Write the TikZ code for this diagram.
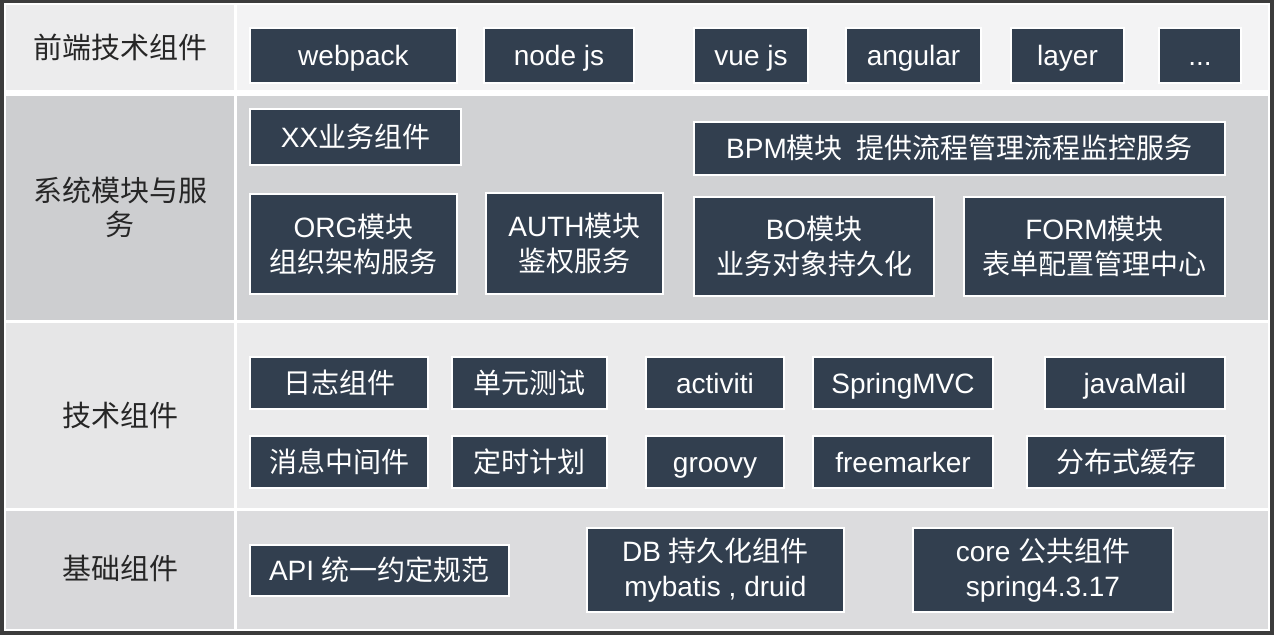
\documentclass[tikz,border=0pt]{standalone}
\usepackage{fontspec}
\setmainfont{Liberation Sans}
\newfontfamily\cjk{Noto Sans CJK SC}
\newcommand\zh[1]{{\cjk #1}}
\definecolor{frame}{HTML}{3C3C3C}
\definecolor{boxfill}{HTML}{323F4F}
\definecolor{rowa}{HTML}{F3F3F4}
\definecolor{rowb}{HTML}{D1D2D4}
\definecolor{rowc}{HTML}{EBEBEC}
\definecolor{rowd}{HTML}{DCDCDE}
\begin{document}
\begin{tikzpicture}[x=1pt, y=-1pt,
          lbl/.style={text=black!85, align=center, inner sep=0pt, font=\fontsize{29}{34}\selectfont\cjk},
          comp/.style={draw=white, line width=2pt, fill=boxfill, text=white, align=center, inner sep=0pt,
                       font=\fontsize{28}{35}\selectfont},
          one/.style={comp, text height=26pt, text depth=6pt},
          row1/.style={one, minimum height=55},
          row3/.style={one, minimum height=52}]
          % ramme og baggrund for tabellen
          \useasboundingbox (0,0) rectangle (1274,635);
          \fill[frame] (0,0) rectangle (1274,635);
          \fill[white] (4,3) rectangle (1270,631);
          % celler: venstre kolonne er lidt moerkere
          \fill[rowa!97!black] (6,5) rectangle (234,90);
          \fill[rowa] (237,5) rectangle (1268,90);
          \fill[rowb!98!black] (6,96) rectangle (234,320);
          \fill[rowb] (237,96) rectangle (1268,320);
          \fill[rowc!98!black] (6,323) rectangle (234,508);
          \fill[rowc] (237,323) rectangle (1268,508);
          \fill[rowd!98!black] (6,511) rectangle (234,629);
          \fill[rowd] (237,511) rectangle (1268,629);
          % raekkernes navne
          \node[lbl] (front) at (120,47) {前端技术组件};
          \node[lbl] (sys) at (120,207) {系统模块与服\\务};
          \node[lbl] (tech) at (120,415) {技术组件};
          \node[lbl] (base) at (120,568) {基础组件};
          % front-end
          \node[row1, minimum width=207] (webpack) at (353.5,55.5) {webpack};
          \node[row1, minimum width=150] (nodejs) at (559,55.5) {node js};
          \node[row1, minimum width=114] (vuejs) at (751,55.5) {vue js};
          \node[row1, minimum width=135] (angular) at (913.5,55.5) {angular};
          \node[row1, minimum width=113] (layer) at (1067.5,55.5) {layer};
          \node[row1, minimum width=82] (more) at (1200,55.5) {...};
          % moduler og services
          \node[one, minimum width=211, minimum height=56] (xx) at (355.5,137) {XX\zh{业务组件}};
          \node[one, minimum width=531, minimum height=53] (bpm) at (959.5,148.5) {BPM\zh{模块}\hspace{0.5em}\zh{提供流程管理流程监控服务}};
          \node[comp, minimum width=207, minimum height=100] (org) at (353.5,244) {ORG\zh{模块}\\\zh{组织架构服务}};
          \node[comp, minimum width=177, minimum height=101] (auth) at (574.5,243.5) {AUTH\zh{模块}\\\zh{鉴权服务}};
          \node[comp, minimum width=240, minimum height=99] (bo) at (814,246.5) {BO\zh{模块}\\\zh{业务对象持久化}};
          \node[comp, minimum width=261, minimum height=99] (form) at (1094.5,246.5) {FORM\zh{模块}\\\zh{表单配置管理中心}};
          % tekniske komponenter
          \node[row3, minimum width=178] (log) at (339,383) {\zh{日志组件}};
          \node[row3, minimum width=155] (unittest) at (529.5,383) {\zh{单元测试}};
          \node[row3, minimum width=138] (activiti) at (715,383) {activiti};
          \node[row3, minimum width=180] (mvc) at (903,383) {SpringMVC};
          \node[row3, minimum width=180] (mail) at (1135,383) {javaMail};
          \node[row3, minimum width=178] (mq) at (339,462) {\zh{消息中间件}};
          \node[row3, minimum width=155] (timer) at (529.5,462) {\zh{定时计划}};
          \node[row3, minimum width=138] (groovy) at (715,462) {groovy};
          \node[row3, minimum width=180] (freemarker) at (903,462) {freemarker};
          \node[row3, minimum width=198] (cache) at (1126,462) {\zh{分布式缓存}};
          % basis
          \node[one, minimum width=259, minimum height=51] (api) at (379.5,570.5) {API \zh{统一约定规范}};
          \node[comp, minimum width=257, minimum height=84] (db) at (715.5,570) {DB \zh{持久化组件}\\mybatis , druid};
          \node[comp, minimum width=260, minimum height=84] (core) at (1043,570) {core \zh{公共组件}\\spring4.3.17};
        \end{tikzpicture}
\end{document}
